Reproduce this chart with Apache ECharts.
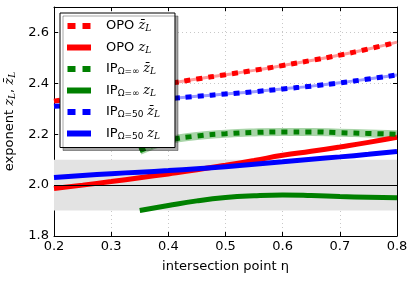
<!DOCTYPE html>
<html><head><meta charset="utf-8">
<script src="https://cdn.jsdelivr.net/npm/echarts@6/dist/echarts.min.js"></script>
<style>html,body{margin:0;padding:0;background:#fff}#c{width:416px;height:282px}</style>
</head><body><div id="c"></div>
<script>
const etaValues = [0.2,0.25,0.3,0.35,0.4,0.45,0.5,0.55,0.6,0.65,0.7,0.75,0.8];
const opoZbar  = [2.33,2.347,2.364,2.381,2.399,2.417,2.434,2.451,2.47,2.49,2.511,2.535,2.562];
const opoZ     = [1.987,2.0,2.014,2.029,2.044,2.06,2.078,2.097,2.117,2.133,2.15,2.168,2.188];
const ipInfZbar= [null,null,null,2.135,2.175,2.193,2.202,2.207,2.209,2.209,2.206,2.203,2.2];
const ipInfZ   = [null,null,null,1.90,1.92,1.938,1.951,1.958,1.961,1.959,1.955,1.952,1.95];
const ip50Zbar = [2.31,2.317,2.325,2.332,2.34,2.349,2.358,2.367,2.378,2.389,2.402,2.417,2.433];
const ip50Z    = [2.03,2.038,2.045,2.051,2.057,2.064,2.072,2.082,2.092,2.102,2.111,2.121,2.132];
const xTicks = [0.2,0.3,0.4,0.5,0.6,0.7,0.8];
const yTicks = [1.8,2.0,2.2,2.4,2.6];
const bandRange = [1.9, 2.1];
const refLine = 2.0;

const pairs = arr => etaValues.map((x,i)=>[x,arr[i]]);
const FONT = 'DejaVu Sans';
const LH = 16;
const rich = {
  sp:{width:10,height:LH,lineHeight:LH},
  t:{fontFamily:FONT,fontSize:13,color:'#000',lineHeight:LH},
  i:{fontFamily:'DejaVu Serif',fontStyle:'italic',fontSize:13,color:'#000',lineHeight:LH},
  s:{fontFamily:'DejaVu Serif',fontStyle:'italic',fontSize:9,color:'#000',lineHeight:LH,padding:[6,0,0,0]},
  u:{fontFamily:FONT,fontSize:9,color:'#000',lineHeight:LH,padding:[6,0,0,0]}
};
const labels = {
  'opoBar':'{sp|}{t|OPO }{i|z̄}{s|L}',
  'opo':'{sp|}{t|OPO }{i|z}{s|L}',
  'infBar':'{sp|}{t|IP}{u|Ω=∞} {i|z̄}{s|L}',
  'inf':'{sp|}{t|IP}{u|Ω=∞} {i|z}{s|L}',
  'p50Bar':'{sp|}{t|IP}{u|Ω=50} {i|z̄}{s|L}',
  'p50':'{sp|}{t|IP}{u|Ω=50} {i|z}{s|L}'
};
const dotIcon = 'path://M0,0h8v6h-8z M15,0h8v6h-8z';
const solidIcon = 'rect';

function dotted(name, data, color){
  return {name, type:'line', data:pairs(data), smooth:true, showSymbol:false, z:5,
    itemStyle:{color}, lineStyle:{color, width:5, type:[6,6], cap:'butt'}};
}
function solid(name, data, color){
  return {name, type:'line', data:pairs(data), smooth:true, showSymbol:false, z:4,
    itemStyle:{color}, lineStyle:{color, width:5, cap:'butt'}};
}
function under(name, data, color, w){
  return {name, type:'line', data:pairs(data), smooth:true, showSymbol:false, z:3,
    itemStyle:{color}, lineStyle:{color, width:w}};
}

const chart = echarts.init(document.getElementById('c'));
chart.setOption({
  animation:false,
  grid:{left:54,right:19,top:7,bottom:46,outerBoundsMode:'none',containLabel:false},
  legend:{
    z:20, zlevel:0,
    left:60, top:13, orient:'vertical', itemWidth:24, itemHeight:6, itemGap:5.5,
    padding:[5,15,6,7],
    backgroundColor:'#fff', borderColor:'#000', borderWidth:1, borderRadius:0,
    shadowColor:'rgba(0,0,0,0.35)', shadowOffsetX:3, shadowOffsetY:3, shadowBlur:0,
    textStyle:{rich, fontSize:13, lineHeight:LH},
    formatter: n => labels[n],
    data:[
      {name:'opoBar',icon:dotIcon},{name:'opo',icon:solidIcon},
      {name:'infBar',icon:dotIcon},{name:'inf',icon:solidIcon},
      {name:'p50Bar',icon:dotIcon},{name:'p50',icon:solidIcon}
    ]
  },
  xAxis:[{
    type:'value', min:0.2, max:0.8, interval:0.1,
    name:'intersection point η', nameLocation:'middle', nameGap:24,
    nameTextStyle:{fontFamily:FONT,fontSize:13,color:'#000'},
    axisLine:{lineStyle:{color:'#000',width:1}},
    axisTick:{inside:true,length:4,lineStyle:{color:'#000'}},
    axisLabel:{fontFamily:FONT,fontSize:13,color:'#000',margin:4,
      formatter:v=>{const t=xTicks.find(x=>Math.abs(x-v)<1e-6);return t!==undefined?t.toFixed(1):'';}},
    splitLine:{show:true,lineStyle:{color:'#c8c8c8',type:[1,3]}}
  },{
    type:'value', position:'top', min:0.2, max:0.8, interval:0.1,
    axisLine:{show:true,lineStyle:{color:'#000'}},
    axisTick:{show:true,inside:true,length:4,lineStyle:{color:'#000'}},
    axisLabel:{show:false}, splitLine:{show:false}
  }],
  yAxis:[{
    type:'value', min:1.8, max:2.7, interval:0.2,
    name:'{t|exponent }{i|z}{s|L}{t|, }{i|z̄}{s|L}', nameLocation:'middle', nameGap:33,
    nameTextStyle:{rich, fontSize:13},
    axisLine:{show:true,lineStyle:{color:'#000',width:1}},
    axisTick:{show:true,inside:true,length:4,lineStyle:{color:'#000'}},
    axisLabel:{fontFamily:FONT,fontSize:13,color:'#000',margin:5,showMaxLabel:false,
      formatter:v=>{const t=yTicks.find(x=>Math.abs(x-v)<1e-6);return t!==undefined?t.toFixed(1):'';}},
    splitLine:{show:true,lineStyle:{color:'#c8c8c8',type:[1,3]}}
  },{
    type:'value', position:'right', min:1.8, max:2.7, interval:0.2,
    axisLine:{show:true,lineStyle:{color:'#000'}},
    axisTick:{show:true,inside:true,length:4,lineStyle:{color:'#000'}},
    axisLabel:{show:false}, splitLine:{show:false}
  }],
  series:[
    {name:'band', type:'line', data:[], z:1,
      markArea:{silent:true, itemStyle:{color:'#e3e3e3'}, data:[[{yAxis:bandRange[0]},{yAxis:bandRange[1]}]]},
      markLine:{silent:true, symbol:'none', label:{show:false}, lineStyle:{color:'#000',width:1,type:'solid'}, data:[{yAxis:refLine}]}
    },
    under('opoBarU', opoZbar, '#ff9a9a', 3),
    under('infBarU', ipInfZbar, '#a8d4a8', 8),
    under('p50BarU', ip50Zbar, '#9a9aff', 3),
    solid('opo', opoZ, '#ff0000'),
    solid('inf', ipInfZ, '#008000'),
    solid('p50', ip50Z, '#0000ff'),
    dotted('opoBar', opoZbar, '#ff0000'),
    dotted('infBar', ipInfZbar, '#008000'),
    dotted('p50Bar', ip50Zbar, '#0000ff')
  ]
});
</script></body></html>
